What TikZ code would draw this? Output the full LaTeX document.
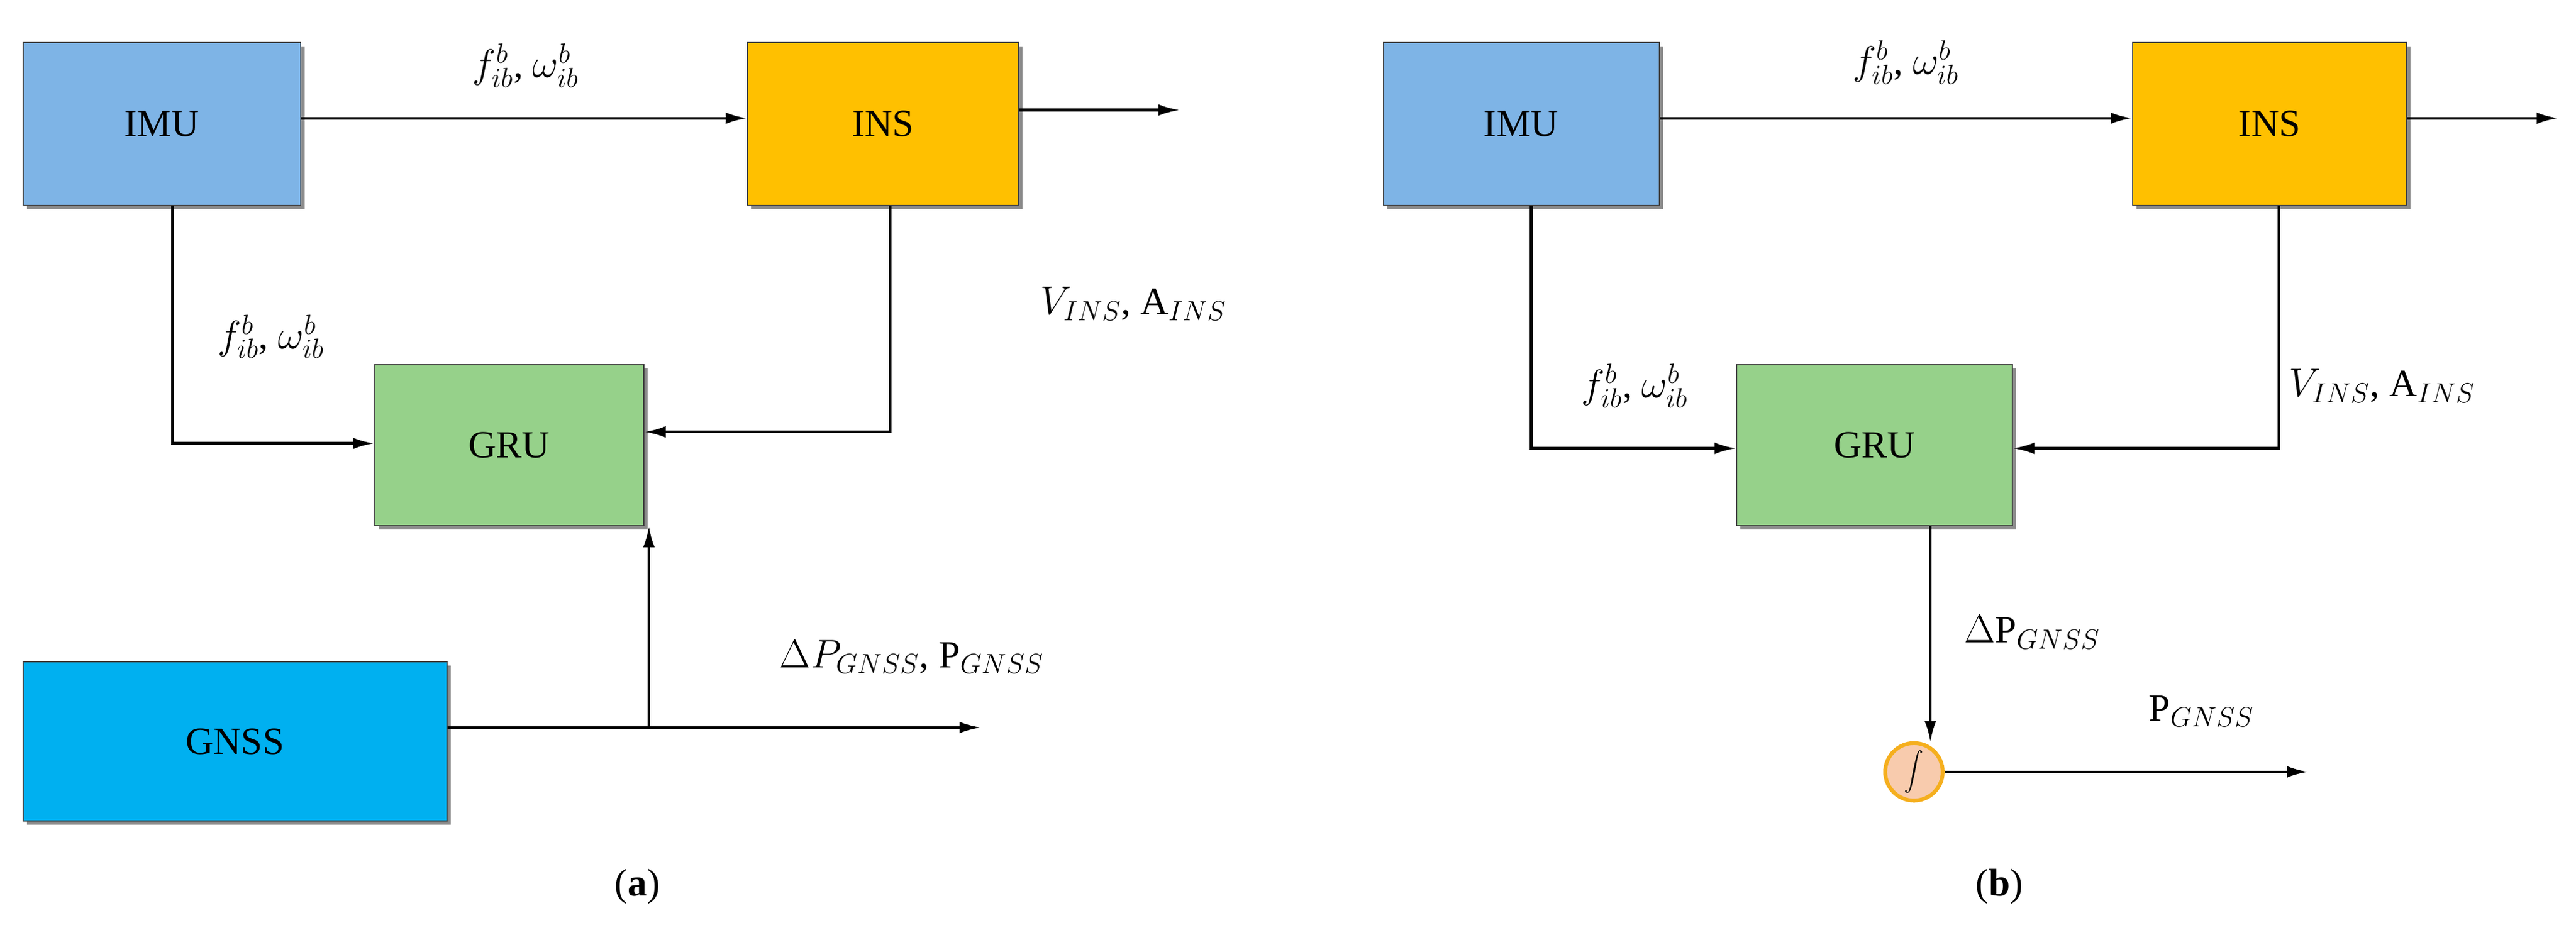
\documentclass[tikz,border=0pt]{standalone}
\usepackage{fontspec}
\setmainfont{Liberation Serif}
\usetikzlibrary{shadows,arrows.meta}
\begin{document}
\begin{tikzpicture}[x=0.3mm,y=-0.3mm,
 box/.style={draw=black!75,line width=0.6pt,drop shadow={shadow xshift=2pt,shadow yshift=-2pt,fill=black!45,opacity=1}},
 ar/.style={-{Latex[length=11pt,width=6pt]},line width=1.4pt},
 lab/.style={font=\fontsize{20}{24}\selectfont},
 every node/.style={font=\fontsize{20}{24}\selectfont}]
\useasboundingbox (0,0) rectangle (1568,569);
% (a)
\node[box,fill={rgb,255:red,126;green,180;blue,230},minimum width=50.7mm,minimum height=29.7mm] (imuA) at (98.5,75.5) {IMU};
\node[box,fill={rgb,255:red,255;green,192;blue,0},minimum width=49.5mm,minimum height=29.7mm] (insA) at (537.5,75.5) {INS};
\node[box,fill={rgb,255:red,150;green,209;blue,138},minimum width=49.2mm,minimum height=29.4mm] (gruA) at (310,271) {GRU};
\node[box,fill={rgb,255:red,0;green,176;blue,240},minimum width=77.4mm,minimum height=29.1mm] (gnss) at (143,451.5) {GNSS};
\coordinate (oA) at (718,67);
\coordinate (gA) at (597,443);
\coordinate (brA) at (395,443);
\draw[ar] (imuA.east |- 0,72) -- (insA.west |- 0,72);
\draw[ar] (insA.east |- oA) -- (oA);
\draw[ar] (insA.south -| 542,0) |- (gruA.east |- 0,263);
\draw[ar] (imuA.south -| 105,0) |- (gruA.west |- 0,270);
\draw[ar] (gnss.east |- gA) -- (gA);
\draw[ar] (brA) -- (gruA.south -| brA);
\node[lab] (l1) at (320,40) {$f_{ib}^{b}$, $\omega_{ib}^{b}$};
\node[lab] (l2) at (165,205) {$f_{ib}^{b}$, $\omega_{ib}^{b}$};
\node[lab] (l3) at (690,185) {$V_{INS}$, A$_{INS}$};
\node[lab] (l4) at (555,400) {$\Delta P_{GNSS}$, P$_{GNSS}$};
\node (ca) at (388,540) {(\textbf{a})};
% (b)
\node[box,fill={rgb,255:red,126;green,180;blue,230},minimum width=50.4mm,minimum height=29.7mm] (imuB) at (926,75.5) {IMU};
\node[box,fill={rgb,255:red,255;green,192;blue,0},minimum width=50.1mm,minimum height=29.7mm] (insB) at (1381.5,75.5) {INS};
\node[box,fill={rgb,255:red,150;green,209;blue,138},minimum width=50.4mm,minimum height=29.4mm] (gruB) at (1141,271) {GRU};
\node[draw={rgb,255:red,245;green,175;blue,30},line width=2pt,fill={rgb,255:red,248;green,203;blue,173},circle,minimum size=10.5mm,inner sep=0pt] (int) at (1165,470) {$\displaystyle\int$};
\coordinate (oB) at (1557,72);
\coordinate (pB) at (1405,470);
\draw[ar] (imuB.east |- 0,72) -- (insB.west |- 0,72);
\draw[ar] (insB.east |- oB) -- (oB);
\draw[ar] (insB.south -| 1387,0) |- (gruB.east |- 0,273);
\draw[ar] (imuB.south -| 932,0) |- (gruB.west |- 0,273);
\draw[ar] (gruB.south -| 1175,0) -- (1175,452);
\draw[ar] (int.east) -- (pB);
\node[lab] (m1) at (1160,38) {$f_{ib}^{b}$, $\omega_{ib}^{b}$};
\node[lab] (m2) at (995,235) {$f_{ib}^{b}$, $\omega_{ib}^{b}$};
\node[lab] (m3) at (1450,235) {$V_{INS}$, A$_{INS}$};
\node[lab] (m4) at (1237,385) {$\Delta$P$_{GNSS}$};
\node[lab] (m5) at (1340,433) {P$_{GNSS}$};
\node (cb) at (1217,540) {(\textbf{b})};
\end{tikzpicture}
\end{document}
